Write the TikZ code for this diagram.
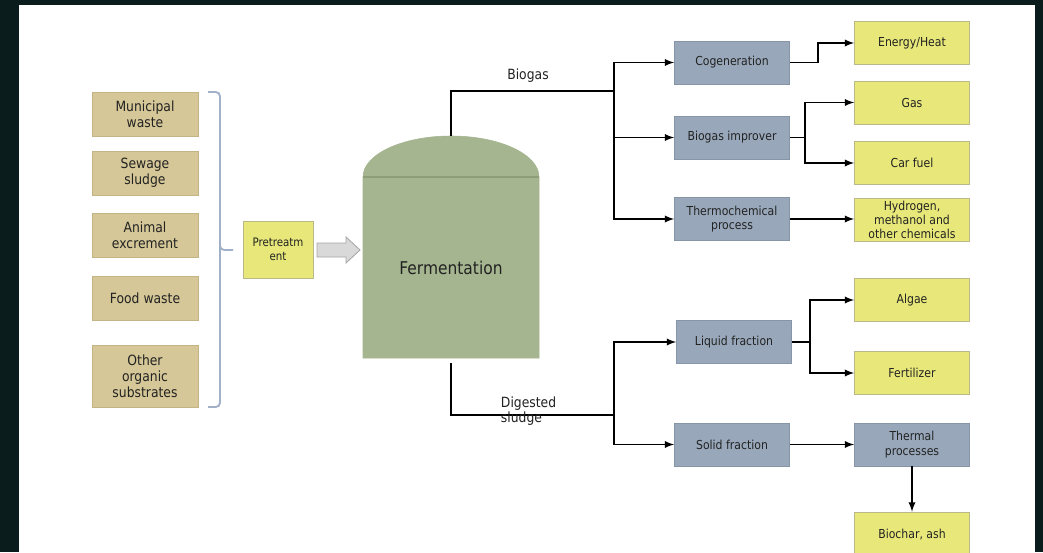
\documentclass[tikz,border=0pt]{standalone}
\usepackage{fontspec}
\setmainfont{DejaVu Sans}[FakeStretch=0.88]
\usepackage{tikz}
\usetikzlibrary{positioning}
\usepackage{xcolor}
\definecolor{frame}{HTML}{0B1C1C}
\definecolor{tan}{HTML}{D5C797}
\definecolor{tanline}{HTML}{C4B483}
\definecolor{slate}{HTML}{98A8BA}
\definecolor{slateline}{HTML}{8696A8}
\definecolor{lemon}{HTML}{E8E87A}
\definecolor{lemonline}{HTML}{B8B88A}
\definecolor{tank}{HTML}{A5B58F}
\definecolor{tankline}{HTML}{8E9E7A}
\definecolor{brace}{HTML}{A0B0C8}
\definecolor{ink}{HTML}{222222}

\begin{document}
\begin{tikzpicture}[x=0.025cm, y=-0.025cm,
    src/.style={draw=tanline, fill=tan, text=ink, align=center, inner sep=0,
                minimum width=2.65cm, minimum height=1.1cm, font=\fontsize{10}{11.5}\selectfont},
    proc/.style={draw=slateline, fill=slate, text=ink, align=center, inner sep=0,
                minimum width=2.875cm, minimum height=1.075cm, font=\fontsize{8.8}{10.5}\selectfont},
    prod/.style={draw=lemonline, fill=lemon, text=ink, align=center, inner sep=0,
                minimum width=2.875cm, minimum height=1.075cm, font=\fontsize{8.8}{10}\selectfont},
    conn/.style={black, line width=1.3pt},
    flow/.style={black, line width=1.3pt, -latex}]
				\clip (0,0) rectangle (1043,552);
				\fill[frame] (0,0) rectangle (1043,552);
				\fill[white] (19,5) rectangle (1035,560);
				% feedstocks
				\node[src] (mun) at (145,114) {Municipal\\waste};
				\node[src] (sew) at (145,173) {Sewage\\sludge};
				\node[src] (ani) at (145,235) {Animal\\excrement};
				\node[src] (food) at (145,298.5) {Food waste};
				\node[src, minimum height=1.55cm] (other) at (145,376) {Other\\organic\\substrates};
				\draw[brace, line width=1.3pt, rounded corners=3pt] (208,92) -- (220,92) -- (220,250) -- (233,250);
				\draw[brace, line width=1.3pt, rounded corners=3pt] (220,245) -- (220,407) -- (208,407);
				\node[src, draw=lemonline, fill=lemon, minimum width=1.75cm, minimum height=1.425cm,
				      font=\fontsize{8.3}{9.8}\selectfont] (pre) at (278,249.5) {Pretreatm\\ent};
				\filldraw[fill=gray!30, draw=gray!70, line width=0.6pt] (317,243) -- (346,243) -- (346,237) -- (360,250)
				    -- (346,263) -- (346,257) -- (317,257) -- cycle;
				% digester
				\filldraw[fill=tank, draw=tank] (363,358) -- (363,177) arc (180:360:88 and 41) -- (539,358) -- cycle;
				\draw[tankline, line width=0.8pt] (363,177) -- (539,177);
				\node[text=ink, font=\fontsize{12.5}{14}\selectfont] (ferm) at (451,268) {Fermentation};
				\coordinate (tanktop) at (451,136);
				\coordinate (tankbot) at (451,363);
				\coordinate (bgj) at (614,91);
				\coordinate (dsj) at (614,415);
				% biogas route
				\node[proc] (cog) at (732,62.5) {Cogeneration};
				\node[proc] (imp) at (732,137.5) {Biogas improver};
				\node[proc] (thermo) at (732,219) {Thermochemical\\process};
				\node[prod] (energy) at (912,43) {Energy/Heat};
				\node[prod] (gas) at (912,102.5) {Gas};
				\node[prod] (car) at (912,163) {Car fuel};
				\node[prod] (hyd) at (912,220) {Hydrogen,\\methanol and\\other chemicals};
				\draw[conn] (tanktop) |- (bgj);
				\node[text=ink, font=\fontsize{10}{12}\selectfont] (biogas) at (528,76) {Biogas};
				\draw[flow] (bgj) |- (cog.west);
				\draw[flow] (bgj) |- (imp.west);
				\draw[flow] (bgj) |- (thermo.west);
				\draw[flow] (cog.east) -- ++(28,0) |- (energy.west);
				\draw[flow] (imp.east) -- ++(15,0) |- (gas.west);
				\draw[flow] (imp.east) -- ++(15,0) |- (car.west);
				\draw[flow] (thermo.east) -- (hyd.west |- thermo.east);
				% sludge route
				\node[proc] (liq) at (734,342) {Liquid fraction};
				\node[proc] (sol) at (732,444.5) {Solid fraction};
				\node[prod] (algae) at (912,300) {Algae};
				\node[prod] (fert) at (912,373) {Fertilizer};
				\node[proc] (thermal) at (912,444.5) {Thermal\\processes};
				\node[prod, minimum height=1.15cm] (biochar) at (912,535) {Biochar, ash};
				\draw[conn] (tankbot) |- (dsj);
				\node[text=ink, align=left, anchor=west, font=\fontsize{10}{9.5}\selectfont] (sludge) at (496,411) {Digested\\sludge};
				\draw[flow] (dsj) |- (liq.west);
				\draw[flow] (dsj) |- (sol.west);
				\draw[flow] (liq.east) -- ++(18,0) |- (algae.west);
				\draw[flow] (liq.east) -- ++(18,0) |- (fert.west);
				\draw[flow] (sol.east) -- (thermal.west);
				\draw[flow] (thermal.south) -- (biochar.north);
				\end{tikzpicture}
\end{document}
